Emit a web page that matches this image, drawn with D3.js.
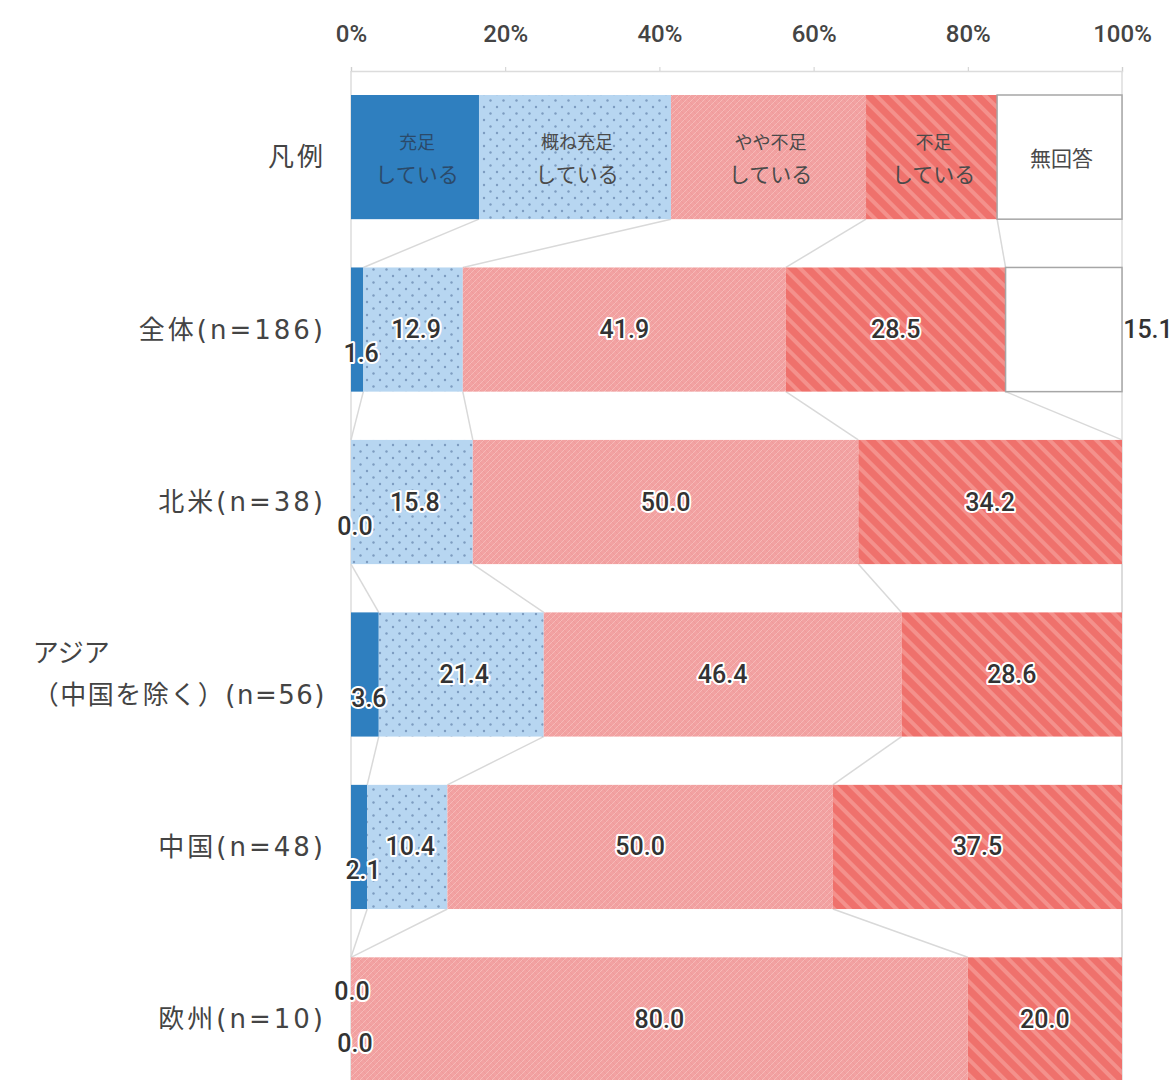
<!DOCTYPE html>
<html><head><meta charset="utf-8">
<script src="https://cdn.jsdelivr.net/npm/d3@7"></script>
<style>
html,body{margin:0;padding:0;background:#fff;}
svg{display:block;}
</style></head>
<body>
<svg id="chart" width="1172" height="1080"></svg>
<script>
// ---- data ----
const categories = ["凡例", "全体(n=186)", "北米(n=38)", "アジア\n（中国を除く）(n=56)", "中国(n=48)", "欧州(n=10)"];
const seriesNames = ["充足している", "概ね充足している", "やや不足している", "不足している", "無回答"];
const legendLines = [["充足", "している"], ["概ね充足", "している"], ["やや不足", "している"], ["不足", "している"], ["無回答"]];
const legendShares = [16.6, 24.9, 25.3, 17.0, 16.2];
const juusoku      = [1.6, 0.0, 3.6, 2.1, 0.0];
const oomune       = [12.9, 15.8, 21.4, 10.4, 0.0];
const yayaFusoku   = [41.9, 50.0, 46.4, 50.0, 80.0];
const fusoku       = [28.5, 34.2, 28.6, 37.5, 20.0];
const mukaitou     = [15.1, null, null, null, null];
const tickValues   = [0, 20, 40, 60, 80, 100];

const seriesData = [juusoku, oomune, yayaFusoku, fusoku, mukaitou];

const svg = d3.select("#chart");
const W = 1172, H = 1080;

// ---- patterns ----
const defs = svg.append("defs");
const pDots = defs.append("pattern").attr("id","pDots").attr("patternUnits","userSpaceOnUse").attr("width",13).attr("height",13);
pDots.append("rect").attr("width",13).attr("height",13).attr("fill","#b7d6f1");
pDots.append("circle").attr("cx",3).attr("cy",3).attr("r",1.2).attr("fill","#7d9cc0");
pDots.append("circle").attr("cx",9.5).attr("cy",9.5).attr("r",1.2).attr("fill","#7d9cc0");

const pHatch = defs.append("pattern").attr("id","pHatch").attr("patternUnits","userSpaceOnUse").attr("width",6).attr("height",6);
pHatch.append("rect").attr("width",6).attr("height",6).attr("fill","#f2a2a2");
pHatch.append("path").attr("d","M0,6 L6,0 M-1,1 L1,-1 M5,7 L7,5").attr("stroke","#f6b9b7").attr("stroke-width",1);
pHatch.append("path").attr("d","M0,0 L6,6").attr("stroke","#ee9898").attr("stroke-width",0.7);

const pStripe = defs.append("pattern").attr("id","pStripe").attr("patternUnits","userSpaceOnUse").attr("width",11).attr("height",11).attr("patternTransform","rotate(-45)");
pStripe.append("rect").attr("width",11).attr("height",11).attr("fill","#ef716c");
pStripe.append("rect").attr("x",0).attr("width",4).attr("height",11).attr("fill","#f4918c");

const fills = ["#2f7fbf", "url(#pDots)", "url(#pHatch)", "url(#pStripe)", "#ffffff"];

// ---- scales ----
const x = d3.scaleLinear().domain([0, 100]).range([351, 1122]);
const y = d3.scaleBand().domain(categories).range([95, 1081.5]).paddingInner(0.28).paddingOuter(0);
const bh = y.bandwidth();

// rows with stacked segments
const rows = categories.map((c, i) => {
  const vals = i === 0 ? legendShares : seriesData.map(s => s[i - 1]);
  let acc = 0;
  const segs = vals.map((v, k) => {
    const s = {row: i, cat: c, k, v, x0: acc, x1: acc + (v || 0)};
    acc += (v || 0);
    return s;
  });
  return {cat: c, i, segs};
});

// ---- axis lines ----
const axisY = 71;
svg.append("line").attr("x1", x(0)).attr("x2", x(0)).attr("y1", axisY).attr("y2", H).attr("stroke","#dcdcdc").attr("stroke-width",1.5);
svg.append("line").attr("x1", x(100)).attr("x2", x(100)).attr("y1", axisY).attr("y2", H).attr("stroke","#dcdcdc").attr("stroke-width",1.5);

const axis = d3.axisTop(x).tickValues(tickValues).tickFormat(d => d + "%").tickSize(4).tickPadding(25);
const gAxis = svg.append("g").attr("transform", `translate(0,${axisY})`).call(axis);
gAxis.select(".domain").attr("stroke","#dcdcdc").attr("stroke-width",1.5);
gAxis.selectAll(".tick line").attr("stroke","#cfcfcf");
gAxis.selectAll(".tick text").attr("fill","#444").attr("font-family","Roboto, 'Liberation Sans', sans-serif").attr("font-size",24).attr("font-weight",500);

// ---- series lines ----
const gLines = svg.append("g");
for (let i = 0; i < rows.length - 1; i++) {
  for (let k = 0; k < 4; k++) {
    const a = rows[i].segs[k].x1, b = rows[i + 1].segs[k].x1;
    gLines.append("line")
      .attr("x1", x(a)).attr("y1", y(categories[i]) + bh)
      .attr("x2", x(b)).attr("y2", y(categories[i + 1]))
      .attr("stroke", "#d9d9d9").attr("stroke-width", 1.5);
  }
}

// ---- bars ----
const gBars = svg.append("g");
rows.forEach(r => {
  gBars.selectAll(null).data(r.segs.filter(s => s.v !== null && s.v > 0)).enter().append("rect")
    .attr("x", s => x(s.x0)).attr("y", y(r.cat))
    .attr("width", s => x(s.x1) - x(s.x0)).attr("height", bh)
    .attr("fill", s => fills[s.k])
    .attr("stroke", s => s.k === 4 ? "#a6a6a6" : "none")
    .attr("stroke-width", 1.5);
});

// ---- legend texts inside legend row ----
const gLeg = svg.append("g");
rows[0].segs.forEach(s => {
  const lines = legendLines[s.k];
  const cx = (x(s.x0) + x(s.x1)) / 2 + 2;
  const cy = y(categories[0]) + bh / 2;
  lines.forEach((t, j) => {
    const off = lines.length === 1 ? 0 : (j === 0 ? -16 : 16);
    gLeg.append("text").attr("x", cx).attr("y", cy + off)
      .attr("text-anchor","middle").attr("dominant-baseline","central")
      .attr("font-family","'Noto Sans CJK JP', sans-serif")
      .attr("font-size", j === 0 && lines.length > 1 ? 18 : 21)
      .attr("fill", s.k === 0 ? "#2b4a6a" : "#4a4a4a")
      .text(t);
  });
});

// ---- value labels ----
const gVal = svg.append("g");
rows.slice(1).forEach(r => {
  const cy = y(r.cat) + bh / 2;
  r.segs.forEach(s => {
    if (s.v === null) return;
    let lx = (x(s.x0) + x(s.x1)) / 2, ly = cy;
    if (s.k === 0) { lx += 4; ly = cy + 24; }
    else if (s.k === 1 && s.v === 0) { lx += 1; ly = cy - 28; }
    else if (s.k === 1) { lx += 3; }
    else if (s.k === 4) { lx = x(100) + 26; }
    gVal.append("text").attr("x", lx).attr("y", ly)
      .attr("text-anchor","middle").attr("dominant-baseline","central")
      .attr("font-family","Roboto, 'Liberation Sans', sans-serif")
      .attr("font-size",25).attr("font-weight",500)
      .attr("fill","#333").attr("stroke","#fff").attr("stroke-width",4)
      .attr("stroke-linejoin","round").attr("paint-order","stroke")
      .text(s.v.toFixed(1));
  });
});

// ---- category labels ----
const gCat = svg.append("g");
const labelX = 326;
categories.forEach(c => {
  const cy = y(c) + bh / 2;
  const lines = c.split("\n");
  if (lines.length === 1) {
    gCat.append("text").attr("x", labelX).attr("y", cy)
      .attr("text-anchor","end").attr("dominant-baseline","central")
      .attr("font-family","'DejaVu Sans', 'Noto Sans CJK JP', sans-serif")
      .attr("font-size",26).attr("letter-spacing",3).attr("fill","#444").text(c);
  } else {
    const t2 = gCat.append("text").attr("x", labelX).attr("y", cy + 21)
      .attr("text-anchor","end").attr("dominant-baseline","central")
      .attr("font-family","'DejaVu Sans', 'Noto Sans CJK JP', sans-serif")
      .attr("font-size",26).attr("letter-spacing",1.5).attr("fill","#444").text(lines[1]);
    const w = t2.node().getComputedTextLength();
    gCat.append("text").attr("x", labelX - w).attr("y", cy - 21)
      .attr("text-anchor","start").attr("dominant-baseline","central")
      .attr("font-family","'DejaVu Sans', 'Noto Sans CJK JP', sans-serif")
      .attr("font-size",26).attr("fill","#444").text(lines[0]);
  }
});
</script>
</body></html>
